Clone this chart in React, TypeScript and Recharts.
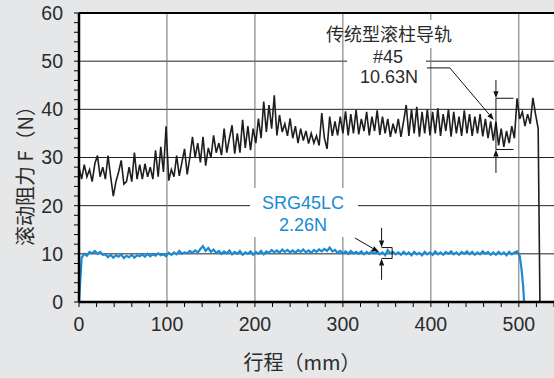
import React from "react";
import { LineChart, Line, XAxis, YAxis, CartesianGrid, ReferenceLine } from "recharts";

// sampling pitch of the traces along the stroke (mm)
const SAMPLE_STEP = 3;

// conventional roller guide #45, rolling resistance (N), one value every 3 mm from 0
const blackForce = [
  28, 25.5, 28.5, 26, 27.5, 25, 28.7, 30.4, 26, 28,
  25.5, 30.4, 26, 22, 25, 27, 29.4, 24.5, 25, 28,
  25, 31, 25.5, 28.5, 25.5, 28.7, 26, 28, 25.5, 31.5,
  26, 32.2, 27, 36.5, 25.2, 27.5, 26, 30.4, 26.2, 29,
  31.8, 26.5, 30, 34.3, 30, 33, 29, 34.3, 28.3, 32,
  30, 34.6, 31, 33, 30.5, 36, 31, 34, 36.7, 30.8,
  35, 31, 37.8, 32, 36.5, 31.5, 36, 33, 38.1, 34,
  41.6, 35.3, 40.9, 36, 42.9, 34.6, 38.8, 35.3, 37, 34.5,
  38.1, 34, 36.5, 33, 36, 33.5, 35.5, 32.9, 35, 33,
  34.5, 32.5, 39.2, 34, 31.8, 38.5, 34.5, 37.5, 34.6, 38.5,
  35, 39.6, 34.6, 39, 35, 39.9, 34.8, 38, 35.5, 39.5,
  34.6, 38.5, 35.5, 39.8, 34.7, 38.5, 35, 38, 34.3, 37,
  35, 38, 34.3, 37.5, 40.9, 34.5, 40, 35, 40.5, 34.3,
  39.5, 35, 40, 34.6, 39.5, 35, 40.2, 34.5, 39, 35.5,
  40, 34.3, 39.5, 35, 38.5, 34.5, 39.8, 35, 39, 34.5,
  38.5, 35, 39, 34.4, 38, 34, 37.5, 33.5, 37.4, 32.5,
  36, 32.2, 35.5, 33, 36.5, 34, 42.3, 38, 39.5, 36.5,
  39, 37, 42.4, 39, 36,
];
const blackTail = [{ x: 524, y: 0 }];

// SRG45LC, rolling resistance (N), one value every 3 mm from 0
const blueForce = [
  0, 9.2, 10.0, 9.6, 10.4, 10.1, 10.6, 10.0, 10.4, 9.8,
  9.9, 9.3, 9.8, 9.2, 9.7, 9.4, 9.9, 9.1, 9.6, 9.3,
  9.8, 9.2, 9.7, 9.5, 9.9, 9.4, 10.0, 9.5, 9.9, 9.6,
  10.1, 9.7, 9.9, 9.5, 10.2, 9.8, 10.3, 9.9, 10.6, 10.0,
  10.3, 10.1, 10.6, 10.2, 10.7, 10.3, 11.0, 11.6, 10.6, 11.2,
  10.4, 10.9, 10.2, 10.6, 10.0, 10.5, 10.1, 10.7, 9.9, 10.4,
  10.0, 10.6, 9.8, 10.3, 10.0, 10.5, 9.8, 10.4, 10.0, 10.6,
  9.9, 10.5, 10.2, 10.8, 10.3, 10.7, 10.2, 10.9, 10.4, 10.8,
  10.3, 10.7, 10.2, 10.8, 10.4, 10.9, 10.3, 10.7, 10.2, 10.8,
  10.4, 10.9, 10.5, 11.0, 10.6, 11.3, 10.5, 10.8, 10.2, 10.6,
  10.1, 10.5, 10.0, 10.6, 10.1, 10.4, 10.0, 10.5, 9.9, 10.4,
  10.0, 10.6, 10.1, 10.4, 9.9, 10.3, 9.7, 10.8, 10.1, 10.4,
  9.9, 10.3, 9.8, 10.4, 9.9, 10.3, 9.7, 10.4, 9.9, 10.2,
  9.7, 10.4, 9.9, 10.3, 9.8, 10.5, 9.9, 10.3, 9.8, 10.4,
  10.0, 10.5, 9.9, 10.3, 9.8, 10.4, 10.0, 10.5, 9.9, 10.4,
  9.8, 10.3, 9.9, 10.5, 10.0, 10.4, 9.8, 10.3, 9.8, 10.4,
  9.9, 10.3, 9.7, 10.4, 9.9, 10.3, 10.5, 9.6,
];
const blueTail = [
  { x: 503, y: 7 },
  { x: 505, y: 3.2 },
  { x: 506, y: 0 },
  { x: 523, y: 0 },
];

const xTicks = [
  0, 20, 40, 60, 80, 100, 120, 140, 160, 180, 200, 220, 240, 260,
  280, 300, 320, 340, 360, 380, 400, 420, 440, 460, 480, 500, 520, 540,
];
const xMajor = [100, 200, 300, 400, 500];
const yTicks = [
  0, 2, 4, 6, 8, 10, 12, 14, 16, 18, 20, 22, 24, 26, 28, 30,
  32, 34, 36, 38, 40, 42, 44, 46, 48, 50, 52, 54, 56, 58, 60,
];
const yMajor = [10, 20, 30, 40, 50];

const blackData = [...blackForce.map((y, i) => ({ x: i * SAMPLE_STEP, y })), ...blackTail];
const blueData = [...blueForce.map((y, i) => ({ x: i * SAMPLE_STEP, y })), ...blueTail];

const LATIN = '"Liberation Sans", Arial, sans-serif';
const CJK = '"Noto Sans CJK SC", sans-serif';
const TEXT = "#2b2b2b";
const BLUE = "#1a8ad2";

function ArrowSegment(props: any) {
  const { x1, y1, x2, y2 } = props;
  const a = Math.atan2(y2 - y1, x2 - x1);
  const len = 7;
  const half = 2.6;
  const bx = x2 - len * Math.cos(a);
  const by = y2 - len * Math.sin(a);
  const pts = `${x2},${y2} ${bx - half * Math.sin(a)},${by + half * Math.cos(a)} ${bx + half * Math.sin(a)},${by - half * Math.cos(a)}`;
  return (
    <g>
      <line x1={x1} y1={y1} x2={bx} y2={by} stroke="#111" strokeWidth={1} />
      <polygon points={pts} fill="#111" />
    </g>
  );
}

function Label({ x, y, children, style }: any) {
  return (
    <div
      style={{
        position: "absolute",
        left: x,
        top: y,
        transform: "translate(-50%, -50%)",
        whiteSpace: "nowrap",
        lineHeight: 1,
        ...style,
      }}
    >
      {children}
    </div>
  );
}

const box = (l: number, t: number, r: number, b: number) => (
  <div style={{ position: "absolute", left: l, top: t, width: r - l, height: b - t, background: "#fff" }} />
);

export default function App() {
  const seg = (x1: number, y1: number, x2: number, y2: number) => [
    { x: x1, y: y1 },
    { x: x2, y: y2 },
  ];
  return (
    <div style={{ position: "absolute", left: 0, top: 0, width: 554, height: 378, background: "#e6e7e9", overflow: "hidden" }}>
      <LineChart width={554} height={378} margin={{ top: 13, right: 0, bottom: 46, left: 0 }}>
        <CartesianGrid fill="#fff" vertical={false} horizontalValues={yMajor} stroke="#222" strokeWidth={1} />
        <CartesianGrid horizontal={false} verticalValues={xMajor} stroke="#6e6e6e" strokeWidth={1} />
        <XAxis
          type="number"
          dataKey="x"
          domain={[0, 540]}
          ticks={xTicks}
          interval={0}
          allowDataOverflow
          height={30}
          tickSize={5}
          tickMargin={10}
          tickFormatter={(v: number) => (v % 100 === 0 && v <= 500 ? String(v) : "")}
          tick={{ fill: TEXT, fontSize: 19.5, fontFamily: LATIN }}
          axisLine={{ stroke: "#000", strokeWidth: 2.5 }}
          tickLine={{ stroke: "#000" }}
        />
        <YAxis
          type="number"
          domain={[0, 60]}
          ticks={yTicks}
          interval={0}
          allowDataOverflow
          width={79}
          tickSize={5}
          tickMargin={11}
          tickFormatter={(v: number) => (v % 10 === 0 ? String(v) : "")}
          tick={{ fill: TEXT, fontSize: 19.5, fontFamily: LATIN }}
          axisLine={{ stroke: "#000", strokeWidth: 2.5 }}
          tickLine={{ stroke: "#000" }}
        />
        <ReferenceLine y={60} stroke="#000" strokeWidth={2} />
        <Line data={blueData} dataKey="y" stroke={BLUE} strokeWidth={2.2} dot={false} isAnimationActive={false} />
        <Line data={blackData} dataKey="y" stroke="#1e1e1e" strokeWidth={1.6} dot={false} isAnimationActive={false} />

        {/* conventional guide: leader + bracket */}
        <ReferenceLine segment={seg(395.5, 48.6, 421.6, 48.6)} stroke="#111" strokeWidth={1} />
        <ReferenceLine segment={seg(421.6, 48.6, 471.6, 37.8)} shape={ArrowSegment} />
        <ReferenceLine segment={seg(474, 42.3, 474, 31.67)} stroke="#111" strokeWidth={1} />
        <ReferenceLine segment={seg(474, 42.3, 494, 42.3)} stroke="#111" strokeWidth={1} />
        <ReferenceLine segment={seg(474, 31.67, 494, 31.67)} stroke="#111" strokeWidth={1} />
        <ReferenceLine segment={seg(474, 46.1, 474, 42.3)} shape={ArrowSegment} />
        <ReferenceLine segment={seg(474, 26.8, 474, 31.67)} shape={ArrowSegment} />

        {/* SRG45LC: leader + bracket */}
        <ReferenceLine segment={seg(313.6, 13.3, 341, 10.4)} shape={ArrowSegment} />
        <ReferenceLine segment={seg(344, 11.3, 356, 11.3)} stroke="#111" strokeWidth={1} />
        <ReferenceLine segment={seg(344, 9.04, 356, 9.04)} stroke="#111" strokeWidth={1} />
        <ReferenceLine segment={seg(356, 11.3, 356, 9.04)} stroke="#111" strokeWidth={1} />
        <ReferenceLine segment={seg(344, 15.4, 344, 11.3)} shape={ArrowSegment} />
        <ReferenceLine segment={seg(344, 4.6, 344, 9.04)} shape={ArrowSegment} />
      </LineChart>

      {box(346, 20, 452, 48)}
      {box(347, 48, 426, 88)}
      {box(250, 188, 358, 237)}

      <Label x={389} y={33} style={{ fontFamily: CJK, fontSize: 18, color: TEXT }}>传统型滚柱导轨</Label>
      <Label x={388} y={57} style={{ fontFamily: LATIN, fontSize: 18, color: TEXT }}>#45</Label>
      <Label x={389} y={77} style={{ fontFamily: LATIN, fontSize: 18, color: TEXT }}>10.63N</Label>

      <Label x={303} y={203} style={{ fontFamily: LATIN, fontSize: 18, color: BLUE }}>SRG45LC</Label>
      <Label x={303} y={225} style={{ fontFamily: LATIN, fontSize: 18, color: BLUE }}>2.26N</Label>

      <Label x={25} y={171} style={{ fontFamily: CJK, fontSize: 20, color: TEXT, transform: "translate(-50%, -50%) rotate(-90deg)" }}>
        滚动阻力 F（N）
      </Label>
      <Label x={302} y={362} style={{ fontFamily: CJK, fontSize: 20, color: TEXT }}>行程（mm）</Label>
    </div>
  );
}
